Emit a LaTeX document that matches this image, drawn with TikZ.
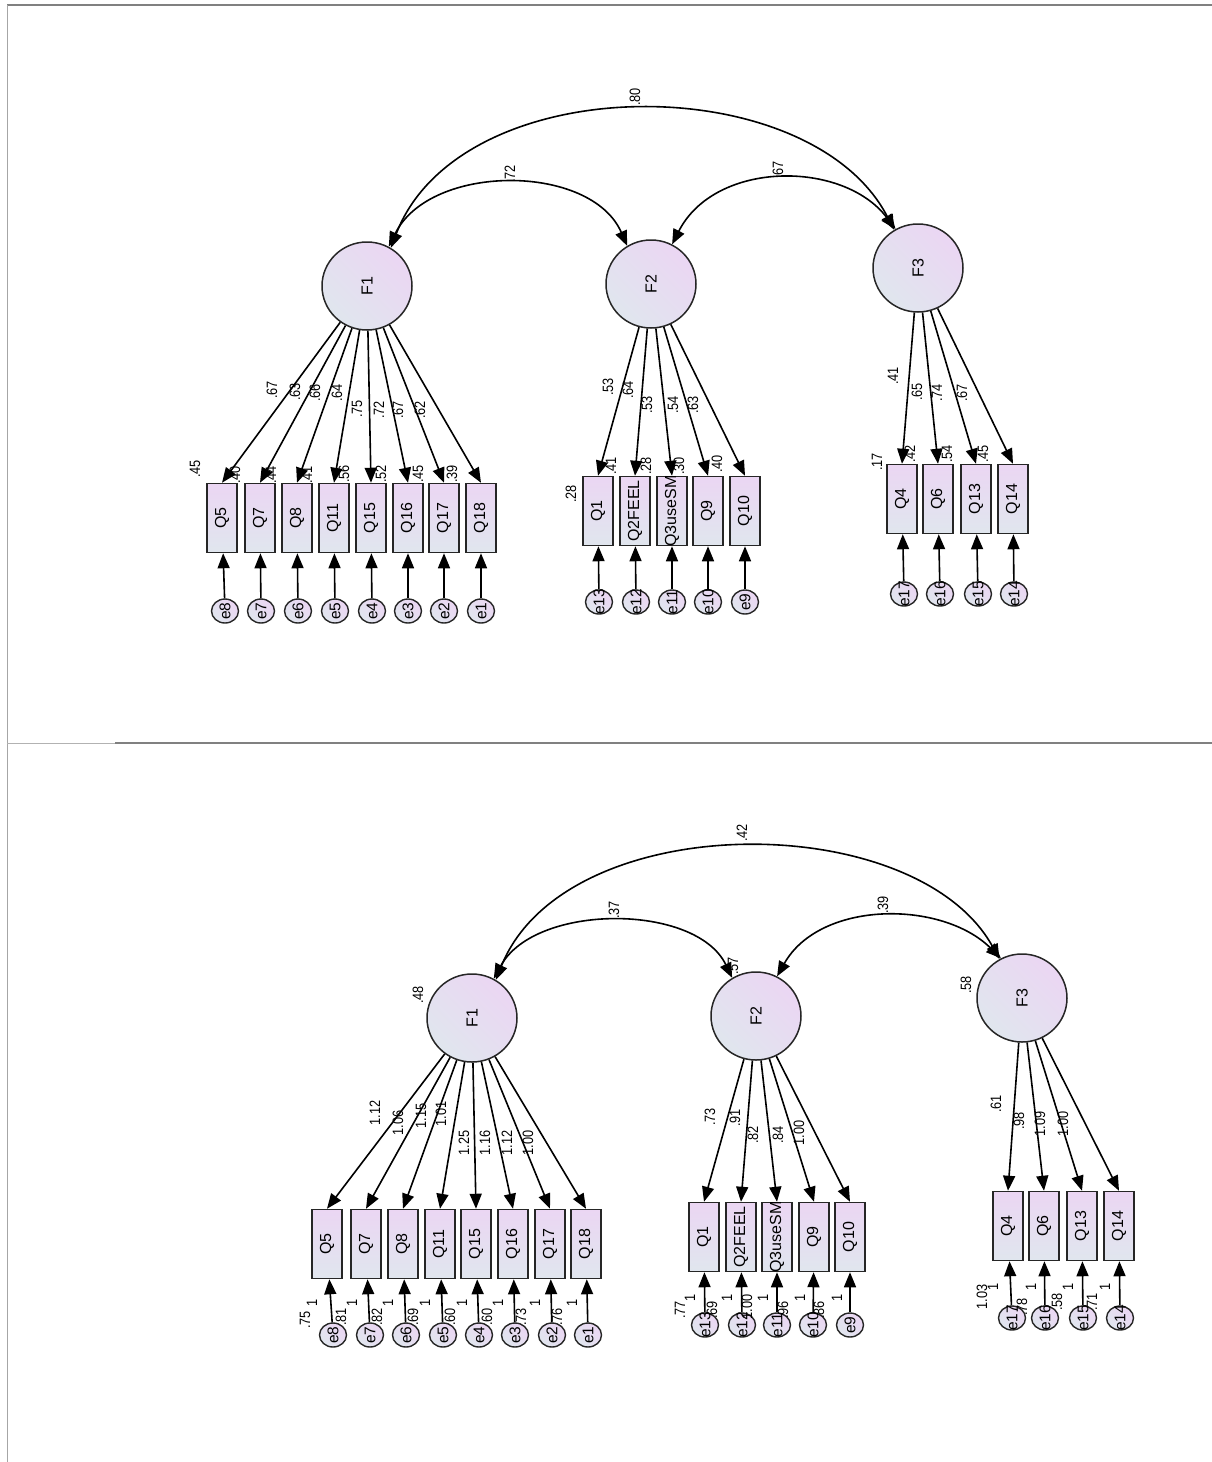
\documentclass[tikz,border=0pt]{standalone}
\usepackage{fontspec}
\setmainfont{Liberation Sans}
\usetikzlibrary{arrows.meta,shapes.geometric}
\definecolor{pur}{RGB}{235,214,243}
\definecolor{blu}{RGB}{224,230,238}
\newcommand{\vt}[1]{\rotatebox{90}{\scalebox{0.85}[1]{#1}}}
\newcommand{\vb}[2]{\rotatebox{90}{\makebox[#1]{#2}}}
\begin{document}
\begin{tikzpicture}[x=1pt, y=-1pt,
 obs/.style={rectangle, draw=black!85, line width=1.5pt, minimum width=30pt, minimum height=69pt, inner sep=0pt, top color=pur, bottom color=blu, font=\fontsize{16}{16}\selectfont},
 lat/.style={ellipse, draw=black!85, line width=1.5pt, minimum width=90pt, minimum height=88pt, inner sep=0pt, top color=pur, bottom color=blu, shading angle=-45, font=\fontsize{16}{16}\selectfont},
 err/.style={ellipse, draw=black!85, line width=1.4pt, minimum width=27pt, minimum height=24pt, inner sep=0pt, top color=pur, bottom color=blu, shading angle=-45, font=\fontsize{15.5}{15.5}\selectfont},
 lbl/.style={inner sep=0pt, font=\fontsize{15}{15}\selectfont},
 load/.style={draw=black, line width=1.6pt, -{Triangle[length=15pt,width=12pt]}},
 cov/.style={draw=black, line width=1.6pt, {Triangle[length=15pt,width=12pt]}-{Triangle[length=15pt,width=12pt]}},
 frame/.style={draw=black!50, line width=1.5pt}]
\useasboundingbox (0,0) rectangle (1212,1462);
\fill[white] (0,0) rectangle (1212,1462);
% frame
\draw[frame] (7,5) -- (1212,5);
\draw[draw=black!35, line width=1pt] (7,5) -- (7,1462);
\draw[draw=black!30, line width=1pt] (7,743) -- (115,743);
\draw[frame] (115,743) -- (1212,743);

% ================= TOP =================
\node[lat] (tF1) at (367,286) {\rotatebox{90}{F1}};
\node[lat] (tF2) at (651,284) {\rotatebox{90}{F2}};
\node[lat] (tF3) at (918,268) {\rotatebox{90}{F3}};
\foreach \n/\t/\x in {tQ5/Q5/222, tQ7/Q7/260, tQ8/Q8/297, tQ11/Q11/334, tQ15/Q15/371, tQ16/Q16/408, tQ17/Q17/444, tQ18/Q18/481}
  \node[obs] (\n) at (\x,518) {\vb{56pt}{\t}};
\foreach \n/\t/\x in {te8/e8/225, te7/e7/261, te6/e6/298, te5/e5/335, te4/e4/372, te3/e3/408, te2/e2/444, te1/e1/481}
  \node[err] (\n) at (\x,611) {\vb{14pt}{\t}};
\foreach \n/\t/\x in {tQ1/Q1/598, tQ2/Q2FEEL/635, tQ3/Q3useSM/672, tQ9/Q9/708, tQ10/Q10/745}
  \node[obs] (\n) at (\x,511) {\vb{56pt}{\t}};
\foreach \n/\t/\x in {te13/e13/599, te12/e12/636, te11/e11/672, te10/e10/708, te9/e9/745}
  \node[err] (\n) at (\x,602) {\vb{14pt}{\t}};
\foreach \n/\t/\x in {tQ4/Q4/902, tQ6/Q6/938, tQ13/Q13/976, tQ14/Q14/1013}
  \node[obs] (\n) at (\x,499) {\vb{56pt}{\t}};
\foreach \n/\t/\x in {te17/e17/904, te16/e16/940, te15/e15/978, te14/e14/1014}
  \node[err] (\n) at (\x,594) {\vb{14pt}{\t}};

% labels top
\foreach \i/\x/\y/\t in {1/635/97/.80, 2/510/174/.72, 3/778/170/.67,
  4/272/390/.67, 5/295/392/.63, 6/315/393/.66, 7/337/393/.64, 8/357/409/.75, 9/379/410/.72, 10/398/410/.67, 11/420/410/.62,
  12/195/469/.45, 13/235/475/.40, 14/271/475/.44, 15/307/475/.41, 16/344/474/.56, 17/381/474/.52, 18/418/474/.45, 19/452/474/.39,
  20/608/387/.53, 21/628/390/.64, 22/647/405/.53, 23/673/405/.54, 24/693/405/.63,
  25/571/494/.28, 26/611/466/.41, 27/646/466/.28, 28/679/466/.30, 29/717/464/.40,
  30/893/376/.41, 31/917/392/.65, 32/937/393/.74, 33/962/393/.67,
  34/877/462/.17, 35/910/454/.42, 36/947/454/.54, 37/983/454/.45}
  \node[lbl] (tL\i) at (\x,\y) {\vt{\t}};

% connectors top
\foreach \q in {tQ5,tQ7,tQ8,tQ11,tQ15,tQ16,tQ17,tQ18} \draw[load] (tF1) -- (\q.north);
\foreach \q in {tQ1,tQ2,tQ3,tQ9,tQ10} \draw[load] (tF2) -- (\q.north);
\foreach \q in {tQ4,tQ6,tQ13,tQ14} \draw[load] (tF3) -- (\q.north);
\foreach \e/\q in {te8/tQ5, te7/tQ7, te6/tQ8, te5/tQ11, te4/tQ15, te3/tQ16, te2/tQ17, te1/tQ18, te13/tQ1, te12/tQ2, te11/tQ3, te10/tQ9, te9/tQ10, te17/tQ4, te16/tQ6, te15/tQ13, te14/tQ14}
  \draw[load] (\e) -- (\q);
\draw[cov] (tF1.58) .. controls (460,67) and (810,67) .. (tF3.122);
\draw[cov] (tF1.61) .. controls (430,163) and (591,163) .. (tF2.122);
\draw[cov] (tF2.62) .. controls (715,160) and (843,160) .. (tF3.120);

% ================= BOTTOM =================
\node[lat] (bF1) at (472,1018) {\rotatebox{90}{F1}};
\node[lat] (bF2) at (756,1016) {\rotatebox{90}{F2}};
\node[lat] (bF3) at (1022,998) {\rotatebox{90}{F3}};
\foreach \n/\t/\x in {bQ5/Q5/327, bQ7/Q7/366, bQ8/Q8/403, bQ11/Q11/440, bQ15/Q15/476, bQ16/Q16/513, bQ17/Q17/550, bQ18/Q18/586}
  \node[obs] (\n) at (\x,1244) {\vb{56pt}{\t}};
\foreach \n/\t/\x in {be8/e8/333, be7/e7/370, be6/e6/406, be5/e5/443, be4/e4/479, be3/e3/515, be2/e2/552, be1/e1/588}
  \node[err] (\n) at (\x,1335) {\vb{14pt}{\t}};
\foreach \n/\t/\x in {bQ1/Q1/704, bQ2/Q2FEEL/741, bQ3/Q3useSM/777, bQ9/Q9/814, bQ10/Q10/850}
  \node[obs] (\n) at (\x,1237) {\vb{56pt}{\t}};
\foreach \n/\t/\x in {be13/e13/705, be12/e12/742, be11/e11/777, be10/e10/813, be9/e9/850}
  \node[err] (\n) at (\x,1325) {\vb{14pt}{\t}};
\foreach \n/\t/\x in {bQ4/Q4/1008, bQ6/Q6/1044, bQ13/Q13/1082, bQ14/Q14/1119}
  \node[obs] (\n) at (\x,1226) {\vb{56pt}{\t}};
\foreach \n/\t/\x in {be17/e17/1012, be16/e16/1045, be15/e15/1083, be14/e14/1120}
  \node[err] (\n) at (\x,1318) {\vb{14pt}{\t}};

% labels bottom
\foreach \i/\x/\y/\t in {1/742/833/.42, 2/614/910/.37, 3/883/905/.39,
  4/418/995/.48, 5/733/966/.57, 6/966/985/.58,
  7/375/1113/1.12, 8/398/1123/1.06, 9/421/1116/1.15, 10/441/1114/1.01, 11/464/1143/1.25, 12/485/1143/1.16, 13/507/1143/1.12, 14/528/1143/1.00,
  15/312/1303/1, 16/352/1303/1, 17/388/1303/1, 18/425/1303/1, 19/462/1303/1, 20/498/1303/1, 21/535/1303/1, 22/572/1303/1,
  23/305/1320/.75, 24/341/1317/.81, 25/377/1317/.82, 26/413/1317/.69, 27/450/1317/.60, 28/487/1317/.60, 29/521/1317/.73, 30/557/1317/.76,
  31/710/1117/.73, 32/735/1118/.91, 33/753/1135/.82, 34/778/1135/.84, 35/799/1133/1.00,
  36/690/1298/1, 37/727/1298/1, 38/763/1298/1, 39/800/1298/1, 40/837/1298/1,
  41/680/1310/.77, 42/712/1310/.69, 43/747/1307/1.00, 44/783/1310/.96, 45/819/1310/.86,
  46/996/1104/.61, 47/1019/1121/.98, 48/1040/1124/1.09, 49/1063/1124/1.00,
  50/993/1287/1, 51/1031/1287/1, 52/1068/1287/1, 53/1105/1287/1,
  54/982/1297/1.03, 55/1022/1307/.78, 56/1057/1302/.58, 57/1092/1302/.71}
  \node[lbl] (bL\i) at (\x,\y) {\vt{\t}};

% connectors bottom
\foreach \q in {bQ5,bQ7,bQ8,bQ11,bQ15,bQ16,bQ17,bQ18} \draw[load] (bF1) -- (\q.north);
\foreach \q in {bQ1,bQ2,bQ3,bQ9,bQ10} \draw[load] (bF2) -- (\q.north);
\foreach \q in {bQ4,bQ6,bQ13,bQ14} \draw[load] (bF3) -- (\q.north);
\foreach \e/\q in {be8/bQ5, be7/bQ7, be6/bQ8, be5/bQ11, be4/bQ15, be3/bQ16, be2/bQ17, be1/bQ18, be13/bQ1, be12/bQ2, be11/bQ3, be10/bQ9, be9/bQ10, be17/bQ4, be16/bQ6, be15/bQ13, be14/bQ14}
  \draw[load] (\e) -- (\q);
\draw[cov] (bF1.58) .. controls (565,807) and (915,807) .. (bF3.120);
\draw[cov] (bF1.61) .. controls (535,903) and (696,903) .. (bF2.122);
\draw[cov] (bF2.62) .. controls (820,900) and (942,900) .. (bF3.118);
\end{tikzpicture}
\end{document}
